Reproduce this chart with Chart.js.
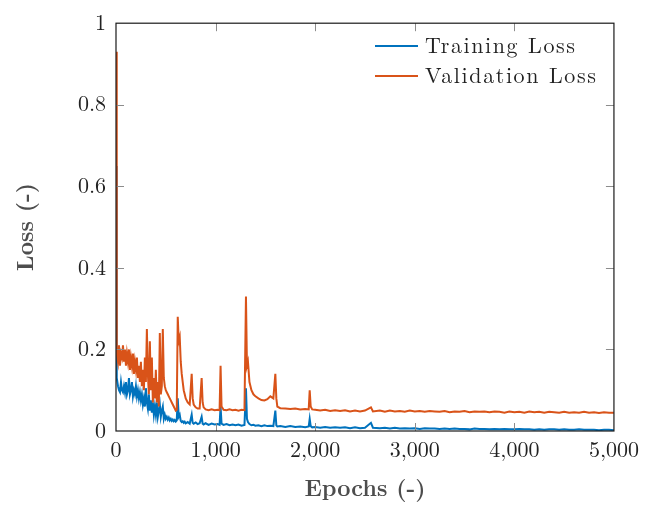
<!DOCTYPE html>
<html>
<head>
<meta charset="utf-8">
<script src="https://cdn.jsdelivr.net/npm/chart.js@4"></script>
<style>
  html, body { margin: 0; padding: 0; background: #fff; }
  #wrap { width: 645px; height: 508px; }
</style>
</head>
<body>
<div id="wrap"><canvas id="lossChart"></canvas></div>
<script>
// --- DATA ---
const epochs = [
    0, 5, 10, 20, 30, 40, 50, 60, 70, 80,
    90, 100, 110, 120, 130, 140, 150, 160, 170, 180,
    190, 200, 210, 220, 230, 240, 250, 260, 270, 280,
    290, 300, 310, 320, 330, 340, 350, 360, 370, 380,
    390, 400, 410, 420, 430, 440, 450, 460, 470, 480,
    490, 500, 510, 520, 530, 540, 550, 560, 570, 580,
    590, 600, 610, 620, 630, 640, 650, 660, 670, 680,
    690, 700, 720, 740, 760, 770, 780, 800, 820, 840,
    860, 870, 880, 900, 930, 960, 990, 1020, 1040, 1050,
    1060, 1080, 1110, 1140, 1170, 1200, 1230, 1260, 1290, 1305,
    1315, 1325, 1340, 1360, 1380, 1400, 1430, 1460, 1490, 1520,
    1550, 1580, 1600, 1610, 1620, 1650, 1700, 1750, 1800, 1850,
    1900, 1935, 1945, 1955, 1970, 2000, 2050, 2100, 2150, 2200,
    2250, 2300, 2350, 2400, 2450, 2500, 2560, 2580, 2650, 2700,
    2750, 2800, 2850, 2900, 2950, 3000, 3050, 3100, 3150, 3200,
    3250, 3300, 3350, 3400, 3450, 3500, 3550, 3600, 3650, 3700,
    3750, 3800, 3850, 3900, 3950, 4000, 4050, 4100, 4150, 4200,
    4250, 4300, 4350, 4400, 4450, 4500, 4550, 4600, 4650, 4700,
    4750, 4800, 4850, 4900, 4950, 5000
];

const trainLoss = [
    0.65, 0.16, 0.13, 0.11, 0.10, 0.095, 0.12, 0.10, 0.095, 0.11,
    0.095, 0.12, 0.09, 0.10, 0.13, 0.09, 0.10, 0.12, 0.085, 0.10,
    0.09, 0.11, 0.085, 0.10, 0.08, 0.095, 0.075, 0.09, 0.065, 0.08,
    0.06, 0.105, 0.07, 0.055, 0.09, 0.05, 0.075, 0.045, 0.07, 0.04,
    0.06, 0.04, 0.07, 0.035, 0.05, 0.065, 0.035, 0.05, 0.06, 0.03,
    0.04, 0.03, 0.035, 0.028, 0.033, 0.026, 0.03, 0.025, 0.028, 0.024,
    0.027, 0.023, 0.026, 0.08, 0.035, 0.04, 0.025, 0.022, 0.024, 0.02,
    0.023, 0.019, 0.022, 0.018, 0.04, 0.02, 0.018, 0.021, 0.017, 0.019,
    0.035, 0.018, 0.016, 0.019, 0.015, 0.018, 0.016, 0.017, 0.015, 0.06,
    0.018, 0.015, 0.017, 0.014, 0.016, 0.014, 0.016, 0.013, 0.015, 0.105,
    0.03, 0.022, 0.017, 0.014, 0.015, 0.013, 0.014, 0.012, 0.014, 0.012,
    0.013, 0.012, 0.05, 0.014, 0.011, 0.012, 0.010, 0.012, 0.010, 0.011,
    0.009, 0.011, 0.03, 0.012, 0.009, 0.010, 0.008, 0.010, 0.008, 0.009,
    0.008, 0.009, 0.007, 0.009, 0.007, 0.008, 0.02, 0.008, 0.007, 0.008,
    0.006, 0.008, 0.006, 0.007, 0.006, 0.007, 0.005, 0.007, 0.006, 0.006,
    0.005, 0.006, 0.005, 0.006, 0.005, 0.005, 0.004, 0.006, 0.005, 0.005,
    0.004, 0.005, 0.004, 0.005, 0.004, 0.004, 0.005, 0.004, 0.004, 0.003,
    0.004, 0.003, 0.004, 0.004, 0.003, 0.004, 0.003, 0.003, 0.004, 0.003,
    0.003, 0.003, 0.002, 0.003, 0.003, 0.002
];

const valLoss = [
    0.93, 0.25, 0.19, 0.17, 0.21, 0.16, 0.19, 0.18, 0.21, 0.17,
    0.20, 0.16, 0.19, 0.17, 0.20, 0.15, 0.18, 0.16, 0.19, 0.14,
    0.17, 0.15, 0.18, 0.13, 0.16, 0.12, 0.17, 0.11, 0.15, 0.10,
    0.18, 0.12, 0.25, 0.14, 0.09, 0.22, 0.10, 0.18, 0.07, 0.13,
    0.08, 0.15, 0.07, 0.12, 0.06, 0.24, 0.09, 0.11, 0.25, 0.13,
    0.11, 0.10, 0.095, 0.09, 0.085, 0.08, 0.075, 0.07, 0.065, 0.06,
    0.055, 0.05, 0.052, 0.28, 0.22, 0.23, 0.17, 0.14, 0.12, 0.10,
    0.09, 0.08, 0.07, 0.065, 0.14, 0.08, 0.065, 0.058, 0.055, 0.055,
    0.13, 0.07, 0.058, 0.053, 0.051, 0.053, 0.051, 0.052, 0.051, 0.16,
    0.06, 0.052, 0.051, 0.053, 0.051, 0.052, 0.050, 0.052, 0.051, 0.33,
    0.16, 0.17, 0.12, 0.10, 0.09, 0.085, 0.08, 0.076, 0.075, 0.078,
    0.085, 0.08, 0.14, 0.08, 0.06, 0.056, 0.055, 0.054, 0.055, 0.053,
    0.054, 0.053, 0.10, 0.06, 0.053, 0.052, 0.050, 0.052, 0.049, 0.051,
    0.049, 0.051, 0.048, 0.050, 0.048, 0.050, 0.058, 0.048, 0.050, 0.047,
    0.050, 0.048, 0.049, 0.047, 0.050, 0.048, 0.049, 0.047, 0.049, 0.048,
    0.047, 0.049, 0.046, 0.048, 0.047, 0.049, 0.046, 0.048, 0.047, 0.048,
    0.046, 0.048, 0.047, 0.045, 0.048, 0.046, 0.047, 0.045, 0.048, 0.046,
    0.047, 0.045, 0.047, 0.046, 0.045, 0.047, 0.045, 0.046, 0.045, 0.047,
    0.045, 0.046, 0.044, 0.046, 0.045, 0.045
];

const seriesLabels = ['Training Loss', 'Validation Loss'];
const seriesColors = ['#0072BD', '#D95319'];
const xTicks = [0, 1000, 2000, 3000, 4000, 5000];
const yTicks = [0, 0.2, 0.4, 0.6, 0.8, 1];

const SERIF = '"Latin Modern Roman", "Liberation Serif", "Times New Roman", serif';

// --- PLUGIN: frame, inner ticks, legend ---
const framePlugin = {
    id: 'frame',
    afterDatasetsDraw(chart) {
        const { ctx, chartArea: a, scales } = chart;
        ctx.save();
        // tick marks on all four sides, pointing inward
        ctx.strokeStyle = '#8c8c8c';
        ctx.lineWidth = 1;
        const len = 8;
        xTicks.forEach(v => {
            if (v === 0 || v === 5000) return;
            const x = Math.round(scales.x.getPixelForValue(v)) + 0.5;
            ctx.beginPath();
            ctx.moveTo(x, a.bottom); ctx.lineTo(x, a.bottom - len);
            ctx.moveTo(x, a.top); ctx.lineTo(x, a.top + len);
            ctx.stroke();
        });
        yTicks.forEach(v => {
            if (v === 0 || v === 1) return;
            const y = Math.round(scales.y.getPixelForValue(v)) + 0.5;
            ctx.beginPath();
            ctx.moveTo(a.left, y); ctx.lineTo(a.left + len, y);
            ctx.moveTo(a.right, y); ctx.lineTo(a.right - len, y);
            ctx.stroke();
        });
        // box
        ctx.strokeStyle = '#1a1a1a';
        ctx.lineWidth = 1.2;
        ctx.strokeRect(a.left, a.top, a.right - a.left, a.bottom - a.top);

        // legend
        ctx.font = '22px ' + SERIF;
        ctx.letterSpacing = '1.6px';
        ctx.textBaseline = 'middle';
        ctx.textAlign = 'left';
        chart.data.datasets.forEach((ds, i) => {
            const y = 46 + i * 30;
            ctx.strokeStyle = ds.borderColor;
            ctx.lineWidth = 2;
            ctx.beginPath();
            ctx.moveTo(375, y); ctx.lineTo(418, y);
            ctx.stroke();
            ctx.fillStyle = '#222';
            ctx.fillText(ds.label, 425, y);
        });
        ctx.restore();
    }
};

// --- CHART ---
const datasets = [trainLoss, valLoss].map((vals, i) => ({
    label: seriesLabels[i],
    data: epochs.map((e, j) => ({ x: e, y: vals[j] })),
    borderColor: seriesColors[i],
    backgroundColor: seriesColors[i],
    borderWidth: 2,
    pointRadius: 0,
    tension: 0,
    order: 1 - i
}));

new Chart(document.getElementById('lossChart'), {
    type: 'line',
    data: { datasets },
    options: {
        responsive: true,
        maintainAspectRatio: false,
        animation: false,
        layout: { padding: { top: 16, right: 31, left: 0, bottom: 0 } },
        plugins: {
            legend: { display: false },
            tooltip: { enabled: false }
        },
        scales: {
            x: {
                type: 'linear',
                min: 0,
                max: 5000,
                afterBuildTicks: s => { s.ticks = xTicks.map(v => ({ value: v })); },
                afterFit: s => { s.height = 77; },
                grid: { display: false, drawTicks: false },
                border: { display: false },
                ticks: {
                    padding: 6,
                    color: '#222',
                    font: { family: SERIF, size: 22 },
                    maxRotation: 0,
                    callback: v => v.toLocaleString('en-US')
                },
                title: {
                    display: true,
                    text: 'Epochs (-)',
                    color: '#4d4d4d',
                    font: { family: SERIF, size: 23, weight: 'bold' },
                    padding: { top: 0, bottom: 5 }
                }
            },
            y: {
                type: 'linear',
                min: 0,
                max: 1,
                afterBuildTicks: s => { s.ticks = yTicks.map(v => ({ value: v })); },
                afterFit: s => { s.width = 116; },
                grid: { display: false, drawTicks: false },
                border: { display: false },
                ticks: {
                    padding: 10,
                    color: '#222',
                    font: { family: SERIF, size: 22 },
                    callback: v => String(+v.toFixed(1))
                },
                title: {
                    display: true,
                    text: 'Loss (-)',
                    color: '#4d4d4d',
                    font: { family: SERIF, size: 23, weight: 'bold' },
                    padding: { top: 12, bottom: 0 }
                }
            }
        }
    },
    plugins: [framePlugin]
});
</script>
</body>
</html>
